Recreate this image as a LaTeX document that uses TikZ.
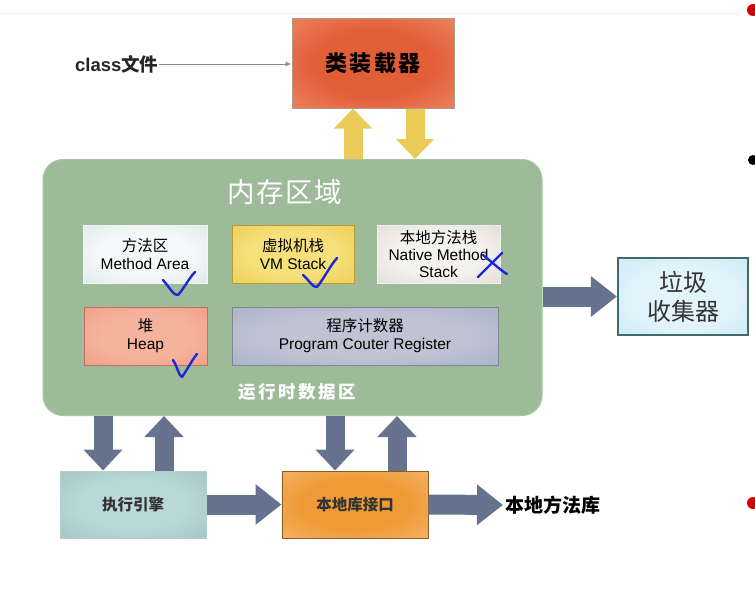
\documentclass[tikz,border=0pt]{standalone}
\usepackage{fontspec}
\setmainfont{Liberation Sans}
\newfontfamily\cjk{Noto Sans CJK SC}
\usetikzlibrary{arrows.meta,calc}
\definecolor{memgreen}{HTML}{9DBB98}
\definecolor{memborder}{HTML}{A9C5A5}
\definecolor{arrowc}{HTML}{67728F}
\definecolor{yellowc}{HTML}{EACB58}
\definecolor{penblue}{HTML}{1A28D6}
\definecolor{ldin}{HTML}{E25E37}\definecolor{ldout}{HTML}{F29E80}
\definecolor{main}{HTML}{F4F8F8}\definecolor{maout}{HTML}{D0E0E0}
\definecolor{vmin}{HTML}{F6E07A}\definecolor{vmout}{HTML}{E7C23E}
\definecolor{nmin}{HTML}{F4F2EF}\definecolor{nmout}{HTML}{D6CDC5}
\definecolor{hpin}{HTML}{F5B39E}\definecolor{hpout}{HTML}{EE8F76}
\definecolor{pcin}{HTML}{BEC4D4}\definecolor{pcout}{HTML}{9EA6BC}
\definecolor{exin}{HTML}{BAD8D8}\definecolor{exout}{HTML}{92B9BA}
\definecolor{nfin}{HTML}{EE9A36}\definecolor{nfout}{HTML}{F7C588}
\definecolor{gcin}{HTML}{E2F4FB}\definecolor{gcout}{HTML}{BFE3F3}
\pgfdeclareradialshading{glowld}{\pgfpoint{0bp}{0bp}}{color(0bp)=(ldin); color(18bp)=(ldin); color(50bp)=(ldout)}
\pgfdeclareradialshading{glowma}{\pgfpoint{0bp}{0bp}}{color(0bp)=(main); color(18bp)=(main); color(50bp)=(maout)}
\pgfdeclareradialshading{glowvm}{\pgfpoint{0bp}{0bp}}{color(0bp)=(vmin); color(18bp)=(vmin); color(50bp)=(vmout)}
\pgfdeclareradialshading{glownm}{\pgfpoint{0bp}{0bp}}{color(0bp)=(nmin); color(18bp)=(nmin); color(50bp)=(nmout)}
\pgfdeclareradialshading{glowhp}{\pgfpoint{0bp}{0bp}}{color(0bp)=(hpin); color(18bp)=(hpin); color(50bp)=(hpout)}
\pgfdeclareradialshading{glowpc}{\pgfpoint{0bp}{0bp}}{color(0bp)=(pcin); color(18bp)=(pcin); color(50bp)=(pcout)}
\pgfdeclareradialshading{glowex}{\pgfpoint{0bp}{0bp}}{color(0bp)=(exin); color(18bp)=(exin); color(50bp)=(exout)}
\pgfdeclareradialshading{glownf}{\pgfpoint{0bp}{0bp}}{color(0bp)=(nfin); color(18bp)=(nfin); color(50bp)=(nfout)}
\pgfdeclareradialshading{glowgc}{\pgfpoint{0bp}{0bp}}{color(0bp)=(gcin); color(18bp)=(gcin); color(50bp)=(gcout)}
\tikzset{
  box/.style={rectangle, draw, line width=1pt, inner sep=0pt, align=center},
  barrow/.style={line width=19pt, draw=arrowc, -{Triangle[width=38pt,length=21pt]}},
  hbarrow/.style={line width=20pt, draw=arrowc, -{Triangle[width=39pt,length=26pt]}},
  yarrow/.style={line width=19pt, draw=yellowc, -{Triangle[width=37pt,length=20pt]}},
  pen/.style={draw=penblue, line width=2.4pt, line cap=round, line join=round},
  small/.style={font=\fontsize{15.5pt}{18pt}\selectfont},
}
\begin{document}
\begin{tikzpicture}[x=1pt,y=-1pt]
\useasboundingbox[fill=white] (0,0) rectangle (755,610);
\draw[black!6, line width=1pt] (0,14) -- (740,14);
% loader
\node[box, draw=black!45!brown!55, shading=glowld, minimum width=162pt, minimum height=89pt,
      font=\cjk\bfseries\fontsize{22pt}{26pt}\selectfont\addfontfeature{LetterSpace=10}] (loader) at (373,63.5) {类装载器};
\node[anchor=west, font=\fontsize{18.5pt}{21pt}\selectfont\bfseries, inner sep=0pt, text=black!85] (cls) at (75,64) {class{\cjk\bfseries 文件}};
\draw[black!45, line width=0.8pt, -{Latex[length=6pt,width=5pt]}] (cls.east) -- (loader.west |- cls.east);
% memory area
\node[box, draw=memborder, fill=memgreen, rounded corners=20pt, minimum width=499pt, minimum height=256pt] (mem) at (292.5,287.5) {};
\node[text=white, font=\cjk\fontsize{27.5pt}{30pt}\selectfont\addfontfeature{LetterSpace=5}] (memtitle) at (285,192) {内存区域};
\node[text=white, font=\cjk\bfseries\fontsize{17.5pt}{21pt}\selectfont\addfontfeature{LetterSpace=14}] (rt) at (297,392) {运行时数据区};
\node[box, draw=white!70!maout, shading=glowma, minimum width=124pt, minimum height=58pt, small] (ma) at (145,254) {{\cjk 方法区}\\Method Area};
\node[box, draw=vmout!80!black, shading=glowvm, minimum width=122pt, minimum height=58pt, small] (vm) at (293,254) {{\cjk 虚拟机栈}\\VM Stack};
\node[box, draw=white!70!nmout, shading=glownm, minimum width=123pt, minimum height=58pt, font=\fontsize{15.5pt}{17pt}\selectfont] (nm) at (438.5,254) {{\cjk 本地方法栈}\\Native Method\\Stack};
\node[box, draw=hpout!80!black, shading=glowhp, minimum width=123pt, minimum height=58pt, small] (heap) at (145.5,336) {{\cjk 堆}\\Heap};
\node[box, draw=pcout!80!black, shading=glowpc, minimum width=266pt, minimum height=58pt, small] (pc) at (365,336) {{\cjk 程序计数器}\\Program Couter Register};
% garbage collector
\node[box, draw=teal!45!black!75, line width=2.2pt, shading=glowgc, minimum width=130pt, minimum height=77pt,
      font=\cjk\fontsize{24pt}{29pt}\selectfont, text=black!80] (gc) at (683,296.5) {垃圾\\收集器};
% bottom boxes
\node[box, draw=exout!70!white, shading=glowex, minimum width=146pt, minimum height=67pt, font=\cjk\bfseries\fontsize{15.5pt}{18pt}\selectfont, text=black!80] (exec) at (133,504.5) {执行引擎};
\node[box, draw=nfin!60!black, shading=glownf, minimum width=146pt, minimum height=67pt, font=\cjk\bfseries\fontsize{15.5pt}{18pt}\selectfont, text=black!80] (nif) at (355,504.5) {本地库接口};
\node[anchor=west, font=\cjk\bfseries\fontsize{19pt}{22pt}\selectfont, inner sep=0pt] (lib) at (505,505) {本地方法库};
% yellow arrows
\coordinate (yup) at ($(loader.south)+(-20,0)$);
\coordinate (ydn) at ($(loader.south)+(42,0)$);
\draw[yarrow] (yup |- mem.north) -- (yup);
\draw[yarrow] (ydn) -- (ydn |- mem.north);
% gray arrows
\draw[hbarrow] (mem.east |- gc.west) -- (gc.west);
\coordinate (e1) at ($(exec.north)+(-30,0)$);
\coordinate (e2) at ($(exec.north)+(31,0)$);
\coordinate (n1) at ($(nif.north)+(-20,0)$);
\coordinate (n2) at ($(nif.north)+(42,0)$);
\draw[barrow] (e1 |- mem.south) -- (e1);
\draw[barrow] (e2) -- (e2 |- mem.south);
\draw[barrow] (n1 |- mem.south) -- (n1);
\draw[barrow] (n2) -- (n2 |- mem.south);
\draw[hbarrow] (exec.east) -- (nif.west);
\draw[hbarrow] (nif.east) -- ([xshift=-2pt]lib.west);
% handwritten marks
\draw[pen] (163,280) .. controls (170,288) and (174,296) .. (178,295) .. controls (183,290) and (189,278) .. (195,272);
\draw[pen] (303,275) .. controls (309,280) and (313,288) .. (317,287) .. controls (323,280) and (330,266) .. (337,258);
\draw[pen] (173,360) .. controls (177,366) and (179,376) .. (182,377) .. controls (187,370) and (192,360) .. (197,354);
\draw[pen] (478,277) -- (502,253);
\draw[pen] (483,255) .. controls (492,262) and (500,270) .. (507,274);
% edge dots
\fill[red!85!black] (753,10) circle (6pt);
\fill[black] (753,160) circle (5pt);
\fill[red!85!black] (753,503) circle (6pt);
\end{tikzpicture}
\end{document}
